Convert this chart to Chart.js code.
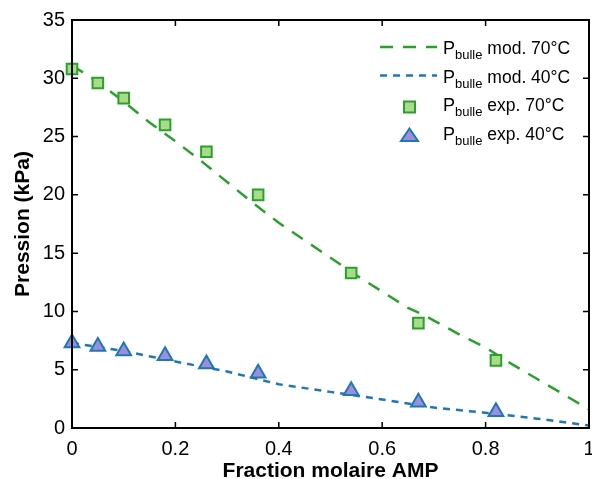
<!DOCTYPE html>
<html>
<head>
<meta charset="utf-8">
<script src="https://cdn.jsdelivr.net/npm/chart.js@4.4.0/dist/chart.umd.min.js"></script>
<style>
  body { margin: 0; background: #fff; }
</style>
</head>
<body>
<canvas id="pressureChart" width="592" height="479"></canvas>
<script>
// experimental points
const fractionExp = [0, 0.05, 0.1, 0.18, 0.26, 0.36, 0.54, 0.67, 0.82];
const pExp70 = [30.8, 29.6, 28.3, 26.0, 23.7, 20.0, 13.3, 9.0, 5.8];
const pExp40 = [7.3, 7.0, 6.6, 6.2, 5.5, 4.7, 3.2, 2.2, 1.4];

// model curves
const fractionMod70 = [0, 0.05, 0.1, 0.15, 0.2, 0.25, 0.3, 0.35, 0.4, 0.45, 0.5, 0.55, 0.6, 0.65, 0.68, 0.75, 0.8, 0.85, 0.9, 0.95, 1];
const pMod70 = [31.1, 29.7, 28.0, 26.2, 24.6, 22.9, 21.1, 19.3, 17.6, 16.1, 14.6, 13.1, 11.7, 10.3, 9.7, 8.0, 6.9, 5.5, 4.2, 2.9, 1.6];
const fractionMod40 = [0, 0.1, 0.2, 0.3, 0.4, 0.5, 0.6, 0.7, 0.8, 0.9, 1];
const pMod40 = [7.3, 6.6, 5.7, 4.85, 3.75, 3.1, 2.45, 1.75, 1.3, 0.8, 0.22];

const xTicks = [0, 0.2, 0.4, 0.6, 0.8, 1];
const yTicks = [0, 5, 10, 15, 20, 25, 30, 35];

const legendItems = [
  { kind: 'line', color: '#2ca02c', dash: [13, 10], label: ' mod. 70°C' },
  { kind: 'line', color: '#1f77b4', dash: [7, 6], label: ' mod. 40°C' },
  { kind: 'rect', color: '#2ca02c', fill: '#a8dc88', label: ' exp. 70°C' },
  { kind: 'triangle', color: '#1f77b4', fill: '#9b8fdc', label: ' exp. 40°C' },
];

const toPoints = (xs, ys) => xs.map((x, i) => ({ x: x, y: ys[i] }));

const green = '#2ca02c';
const blue = '#1f77b4';

// box, inward ticks and the custom legend with subscripts
const frame = {
  id: 'frame',
  afterDraw(chart) {
    const ctx = chart.ctx;
    const a = chart.chartArea;
    const xs = chart.scales.x;
    const ys = chart.scales.y;
    ctx.save();
    ctx.strokeStyle = '#000';
    ctx.lineWidth = 1.5;
    xTicks.forEach(t => {
      const px = xs.getPixelForValue(t);
      ctx.beginPath();
      ctx.moveTo(px, a.bottom); ctx.lineTo(px, a.bottom - 6);
      ctx.moveTo(px, a.top); ctx.lineTo(px, a.top + 6);
      ctx.stroke();
    });
    yTicks.forEach(t => {
      const py = ys.getPixelForValue(t);
      ctx.beginPath();
      ctx.moveTo(a.left, py); ctx.lineTo(a.left + 6, py);
      ctx.moveTo(a.right, py); ctx.lineTo(a.right - 6, py);
      ctx.stroke();
    });
    ctx.lineWidth = 2;
    ctx.strokeRect(a.left, a.top, a.right - a.left, a.bottom - a.top);

    // legend
    legendItems.forEach((it, i) => {
      const cy = 47 + i * 28.5;
      if (it.kind === 'line') {
        ctx.beginPath();
        ctx.setLineDash(it.dash);
        ctx.strokeStyle = it.color;
        ctx.lineWidth = 2.5;
        ctx.moveTo(380, cy); ctx.lineTo(437, cy);
        ctx.stroke();
        ctx.setLineDash([]);
      } else if (it.kind === 'rect') {
        ctx.fillStyle = it.fill;
        ctx.strokeStyle = it.color;
        ctx.lineWidth = 2;
        ctx.fillRect(404, cy - 2.5, 11, 11);
        ctx.strokeRect(404, cy - 2.5, 11, 11);
      } else {
        ctx.beginPath();
        ctx.fillStyle = it.fill;
        ctx.strokeStyle = it.color;
        ctx.lineWidth = 2;
        ctx.moveTo(409.5, cy - 4);
        ctx.lineTo(418, cy + 8.5);
        ctx.lineTo(401, cy + 8.5);
        ctx.closePath();
        ctx.fill();
        ctx.stroke();
      }
      ctx.fillStyle = '#000';
      ctx.textBaseline = 'alphabetic';
      ctx.textAlign = 'left';
      ctx.font = '18px "Liberation Sans", Arial, sans-serif';
      ctx.fillText('P', 443, cy + 7);
      let x = 443 + ctx.measureText('P').width;
      ctx.font = '13px "Liberation Sans", Arial, sans-serif';
      ctx.fillText('bulle', x, cy + 12);
      x += ctx.measureText('bulle').width;
      ctx.font = '17.5px "Liberation Sans", Arial, sans-serif';
      ctx.fillText(it.label, x, cy + 7);
    });
    ctx.restore();
  }
};

const pressureChart = new Chart(document.getElementById('pressureChart'), {
  type: 'scatter',
  data: {
    datasets: [
      {
        label: 'Pbulle exp. 70°C',
        data: toPoints(fractionExp, pExp70),
        pointStyle: 'rect',
        pointRadius: 7.5,
        pointBackgroundColor: '#a8dc88',
        pointBorderColor: green,
        pointBorderWidth: 2,
        showLine: false,
        clip: false,
        order: 0
      },
      {
        label: 'Pbulle exp. 40°C',
        data: toPoints(fractionExp, pExp40),
        pointStyle: 'triangle',
        pointRadius: 8.5,
        pointBackgroundColor: '#9b8fdc',
        pointBorderColor: blue,
        pointBorderWidth: 2,
        showLine: false,
        clip: false,
        order: 0
      },
      {
        label: 'Pbulle mod. 70°C',
        data: toPoints(fractionMod70, pMod70),
        showLine: true,
        borderColor: green,
        borderWidth: 2.5,
        borderDash: [13, 10],
        pointRadius: 0,
        order: 1
      },
      {
        label: 'Pbulle mod. 40°C',
        data: toPoints(fractionMod40, pMod40),
        showLine: true,
        borderColor: blue,
        borderWidth: 2.5,
        borderDash: [7, 6],
        pointRadius: 0,
        order: 1
      }
    ]
  },
  options: {
    responsive: false,
    animation: false,
    devicePixelRatio: 1,
    layout: { autoPadding: false, padding: { top: 20, right: 3, left: 0, bottom: 0 } },
    plugins: {
      legend: { display: false },
      tooltip: { enabled: false }
    },
    scales: {
      x: {
        type: 'linear',
        min: 0,
        max: 1,
        afterFit: s => { s.height = 51; s.paddingLeft = 0; s.paddingRight = 0; },
        afterBuildTicks: s => { s.ticks = xTicks.map(v => ({ value: v })); },
        grid: { display: false, drawTicks: false },
        border: { display: false },
        ticks: {
          color: '#000',
          padding: 9,
          callback: v => String(v),
          font: { family: '"Liberation Sans", Arial, sans-serif', size: 20 }
        },
        title: {
          display: true,
          text: 'Fraction molaire AMP',
          color: '#000',
          padding: { top: 0, bottom: -5 },
          font: { family: '"Liberation Sans", Arial, sans-serif', size: 21, weight: 'bold' }
        }
      },
      y: {
        min: 0,
        max: 35,
        afterFit: s => { s.width = 72; s.paddingTop = 0; s.paddingBottom = 0; },
        afterBuildTicks: s => { s.ticks = yTicks.map(v => ({ value: v })); },
        grid: { display: false, drawTicks: false },
        border: { display: false },
        ticks: {
          color: '#000',
          padding: 7,
          callback: v => String(v),
          font: { family: '"Liberation Sans", Arial, sans-serif', size: 20 }
        },
        title: {
          display: true,
          text: 'Pression (kPa)',
          color: '#000',
          padding: { top: 11, bottom: 0 },
          font: { family: '"Liberation Sans", Arial, sans-serif', size: 21, weight: 'bold' }
        }
      }
    }
  },
  plugins: [frame]
});
</script>
</body>
</html>
